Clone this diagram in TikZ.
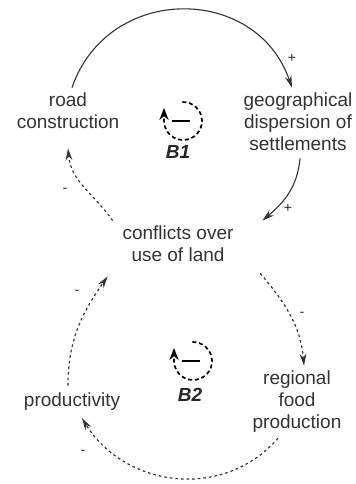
\documentclass[tikz,border=0pt]{standalone}
\usepackage{fontspec}
\setmainfont{Liberation Sans}
\usetikzlibrary{arrows.meta,positioning,calc}

\tikzset{
  var/.style={align=center, inner sep=2.5pt, text=black!80, font=\fontsize{9.5}{11}\selectfont},
  link/.style={->, line width=0.55pt, draw=black!80},
  dlink/.style={link, line width=0.6pt, dash pattern=on 1.3pt off 1.5pt},
  pol/.style={inner sep=0pt, text=black!85, font=\fontsize{7}{8}\selectfont},
  loopsym/.style={line width=0.85pt, dash pattern=on 2pt off 1.4pt, -{Stealth[length=6pt,width=4.6pt]}},
  looplbl/.style={inner sep=0pt, text=black!85, font=\fontsize{9.5}{11}\selectfont\bfseries\itshape}
}

\begin{document}
\begin{tikzpicture}[>={Stealth[length=6pt,width=3.4pt]}, x=0.5pt, y=0.5pt]
    \useasboundingbox (0,0) rectangle (356,484);

    % variables
    \node[var] (road) at (68,373) {road\\construction};
    \node[var] (disp) at (298,362) {geographical\\dispersion of\\settlements};
    \node[var] (conflict) at (178,240) {conflicts over\\use of land};
    \node[var] (food) at (297,82) {regional\\food\\production};
    \node[var] (prod) at (72,82) {productivity};

    % loop B1
    \coordinate (b1) at (183,363);
    \draw[loopsym] ($(b1)+(92:19)$) arc[start angle=92, end angle=-180, radius=19] -- ++(0,13);
    \draw[line width=0.9pt] ($(b1)+(-11,0)$) -- ($(b1)+(7,0)$);
    \node[looplbl] (b1lbl) at (178,332) {B1};

    % loop B2
    \coordinate (b2) at (193,123);
    \draw[loopsym] ($(b2)+(92:19)$) arc[start angle=92, end angle=-180, radius=19] -- ++(0,13);
    \draw[line width=0.9pt] ($(b2)+(-11,0)$) -- ($(b2)+(7,0)$);
    \node[looplbl] (b2lbl) at (190,89) {B2};

    % links
    \draw[link] ([xshift=2pt]road.north) to[out=71, in=109, looseness=1.28] ([xshift=-3pt]disp.north);
    \draw[link] ([xshift=1pt,yshift=-1pt]disp.south) to[out=-95, in=40] ([xshift=11.75pt]conflict.north east);
    \draw[dlink] ([xshift=-2.25pt]conflict.north west) to[out=125, in=-85] ([yshift=-7pt]road.south);
    \draw[dlink] ([xshift=10.75pt,yshift=-3pt]conflict.south east) to[out=-50, in=95] ([xshift=3.5pt]food.north);
    \draw[dlink] ([xshift=-9.5pt]food.south) to[out=-131, in=-58, looseness=1.07] ([xshift=5pt,yshift=-1pt]prod.south);
    \draw[dlink] ([xshift=-2pt,yshift=1pt]prod.north) to[out=90, in=-125] ([xshift=-4.75pt,yshift=-4.5pt]conflict.south west);

    % polarities
    \node[pol] (s1) at (292,426) {+};
    \node[pol] (s2) at (288,276) {+};
    \node[pol] (s3) at (65,294) {-};
    \node[pol] (s4) at (302,170) {-};
    \node[pol] (s5) at (83,32) {-};
    \node[pol] (s6) at (77,192) {-};
\end{tikzpicture}
\end{document}
